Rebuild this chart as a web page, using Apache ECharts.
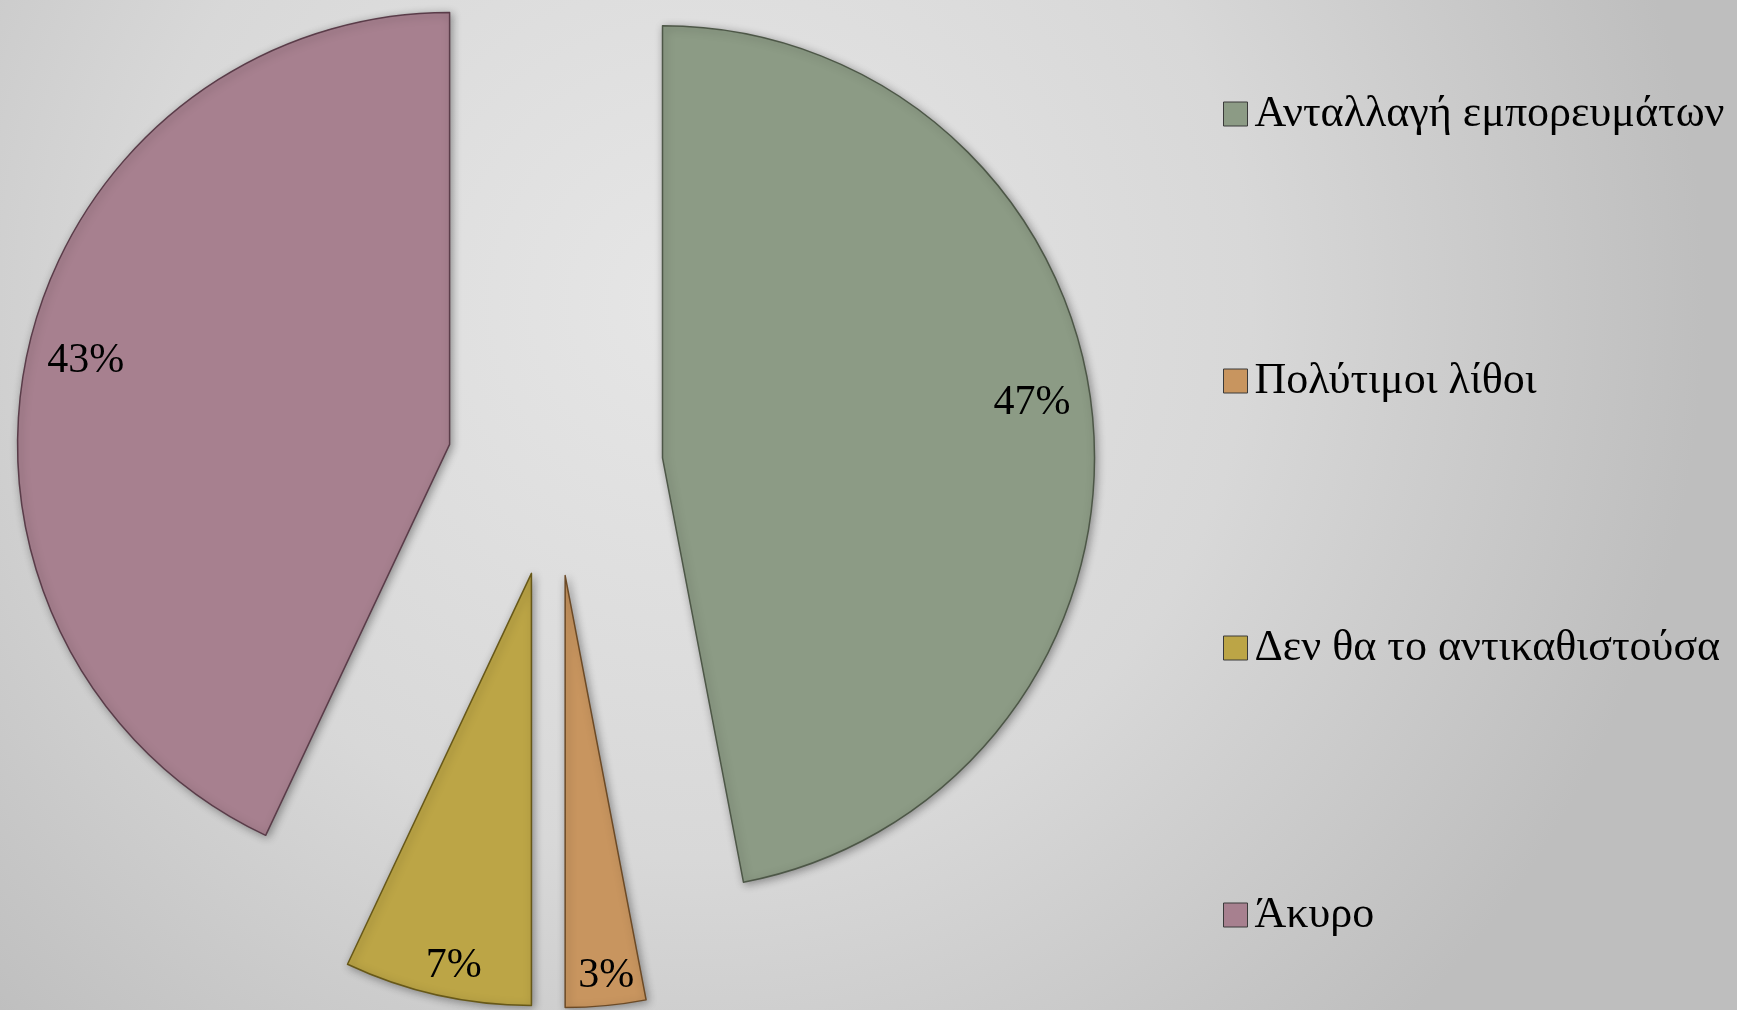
<!DOCTYPE html>
<html>
<head>
<meta charset="utf-8">
<script src="https://cdn.jsdelivr.net/npm/echarts@6/dist/echarts.min.js"></script>
<style>
html,body{margin:0;padding:0;}
#main{width:1737px;height:1010px;}
</style>
</head>
<body>
<div id="main"></div>
<script>
    //数据
    var categories=['Ανταλλαγή εμπορευμάτων','Πολύτιμοι λίθοι','Δεν θα το αντικαθιστούσα','Άκυρο'];
    var values=[47,3,7,43];

    //样式
    var sliceColors=['#8c9b85','#c8955f','#bca546','#a7808f'];
    var edgeColors=['#4d5747','#6c4a26','#675818','#5a3c49'];
    var labelShiftX=[-12,5,6,10];
    var labelShiftY=[-1,1,1,0];   // 半行: -1 上移, 1 下移

    var R=432;
    var pieCenter=[555,468];

    var myChart=echarts.init(document.getElementById('main'));

    var pieData=[],labelData=[],legendData=[];
    for(var i=0;i<categories.length;i++){
        var dx=labelShiftX[i];
        pieData.push({
            name:categories[i],
            value:values[i],
            selected:true,
            itemStyle:{
                color:sliceColors[i],
                borderColor:edgeColors[i],
                borderWidth:1.5,
                shadowBlur:8,
                shadowOffsetX:2,
                shadowOffsetY:2,
                shadowColor:'rgba(0,0,0,0.35)'
            }
        });
        labelData.push({
            name:categories[i],
            value:values[i],
            selected:true,
            label:{padding:[0,dx<0?-2*dx:0,0,dx>0?2*dx:0]}
        });
        legendData.push({
            name:categories[i],
            itemStyle:{color:sliceColors[i],borderColor:'#3a3a3a',borderWidth:1}
        });
    }

    var option={
        backgroundColor:new echarts.graphic.RadialGradient(0.4,0.3,1.0,[
            {offset:0,color:'#e6e6e6'},
            {offset:0.55,color:'#d8d8d8'},
            {offset:1,color:'#bebebe'}
        ]),
        animation:false,
        legend:{
            orient:'vertical',
            left:1218,
            top:87,
            itemWidth:24,
            itemHeight:24,
            itemGap:223,
            icon:'rect',
            selectedMode:false,
            data:legendData,
            textStyle:{
                fontFamily:'Liberation Serif',
                fontSize:44,
                lineHeight:44,
                color:'#000',
                padding:[0,0,0,2]
            }
        },
        series:[
            {
                //扇区
                type:'pie',
                center:pieCenter,
                radius:[0,R],
                startAngle:90,
                clockwise:true,
                selectedMode:'multiple',
                selectedOffset:108,
                silent:true,
                emphasis:{disabled:true},
                label:{show:false},
                labelLine:{show:false},
                data:pieData
            },
            {
                //百分比标签
                type:'pie',
                center:pieCenter,
                radius:[R*0.76,R],
                startAngle:90,
                clockwise:true,
                selectedMode:'multiple',
                selectedOffset:108,
                silent:true,
                emphasis:{disabled:true},
                itemStyle:{color:'rgba(0,0,0,0)'},
                label:{
                    show:true,
                    position:'inside',
                    formatter:function(p){
                        var s=p.value+'%';
                        var k=labelShiftY[p.dataIndex];
                        if(k>0) return ' \n'+s;
                        if(k<0) return s+'\n ';
                        return s;
                    },
                    fontFamily:'Liberation Serif',
                    fontSize:42,
                    lineHeight:38,
                    color:'#000'
                },
                labelLine:{show:false},
                data:labelData
            }
        ]
    };

    myChart.setOption(option);
</script>
</body>
</html>
